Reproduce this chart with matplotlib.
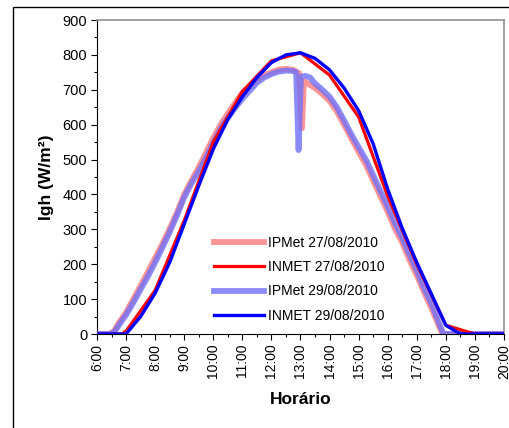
import matplotlib
matplotlib.use("Agg")
import matplotlib.pyplot as plt
from matplotlib.patches import Rectangle
from matplotlib.ticker import MultipleLocator

plt.rcParams['font.family'] = ['Liberation Sans', 'DejaVu Sans']

def hm(s):
    h, m = s.split(':')
    return int(h) + int(m) / 60.0

# IPMet 27/08/2010
ipmet27_t = ["6:00", "6:25", "6:35", "6:45", "7:00", "7:15", "7:30", "7:45", "8:00", "8:15", "8:30", "8:45",
             "9:00", "9:15", "9:30", "9:45", "10:00", "10:15", "10:30", "10:45", "11:00", "11:15", "11:30",
             "11:45", "12:00", "12:15", "12:30", "12:45", "12:57", "13:03", "13:07", "13:15", "13:30", "13:45",
             "14:00", "14:15", "14:30", "14:45", "15:00", "15:15", "15:30", "15:45", "16:00", "16:15", "16:30",
             "16:45", "17:00", "17:15", "17:30", "17:45", "17:53", "20:00"]
ipmet27_v = [0, 0, 8, 32, 62, 100, 138, 178, 218, 258, 302, 348,
             400, 440, 478, 520, 562, 600, 632, 662, 692, 708, 728,
             742, 750, 758, 760, 757, 748, 590, 725, 718, 705, 688,
             668, 638, 600, 560, 522, 485, 440, 395, 350, 302, 262,
             212, 168, 120, 75, 25, 0, 0]

# INMET 27/08/2010
inmet27_t = ["6:00", "6:50", "7:00", "8:00", "9:00", "10:00", "11:00", "12:00", "13:00", "14:00",
             "15:00", "16:00", "17:00", "18:00", "19:00", "20:00"]
inmet27_v = [0, 0, 8, 125, 325, 550, 695, 783, 806, 742, 622, 395, 200, 25, 0, 0]

# IPMet 29/08/2010
ipmet29_t = ["6:00", "6:25", "6:35", "6:45", "7:00", "7:15", "7:30", "7:45", "8:00", "8:15", "8:30", "8:45",
             "9:00", "9:15", "9:30", "9:45", "10:00", "10:15", "10:30", "10:45", "11:00", "11:15", "11:30",
             "11:45", "12:00", "12:15", "12:30", "12:45", "12:51", "12:56", "13:01", "13:10", "13:20", "13:30",
             "13:45", "14:00", "14:15", "14:30", "14:45", "15:00", "15:15", "15:30", "15:45", "16:00", "16:15",
             "16:30", "16:45", "17:00", "17:15", "17:30", "17:45", "17:55", "20:00"]
ipmet29_v = [0, 0, 4, 25, 55, 90, 128, 165, 205, 248, 292, 340,
             392, 432, 466, 505, 548, 588, 620, 648, 674, 697, 720,
             735, 745, 752, 755, 754, 750, 527, 738, 740, 735, 718,
             700, 680, 650, 612, 572, 535, 500, 455, 410, 365, 318,
             275, 228, 182, 132, 88, 35, 0, 0]

# INMET 29/08/2010
inmet29_t = ["6:00", "7:00", "7:30", "8:00", "8:30", "9:00", "9:30", "10:00", "10:30", "11:00", "11:30",
             "12:00", "12:30", "13:00", "13:30", "14:00", "14:30", "15:00", "15:30", "16:00", "16:30",
             "17:00", "17:30", "18:00", "18:30", "20:00"]
inmet29_v = [0, 0, 50, 117, 205, 315, 425, 530, 615, 680, 735,
             778, 800, 806, 790, 757, 705, 640, 545, 415, 303,
             205, 115, 25, 0, 0]

xtick_labels = ["6:00", "7:00", "8:00", "9:00", "10:00", "11:00", "12:00", "13:00", "14:00",
                "15:00", "16:00", "17:00", "18:00", "19:00", "20:00"]
yticks = [0, 100, 200, 300, 400, 500, 600, 700, 800, 900]

fig = plt.figure(figsize=(5.10, 4.28), dpi=100)
# outer frame
fig.patches.append(Rectangle((13 / 510, -0.05), 1.2, 1 - 7 / 428 + 0.05, transform=fig.transFigure,
                             fill=False, edgecolor='black', linewidth=1.0, zorder=0))
ax = fig.add_axes([97 / 510, 1 - 334 / 428, (504 - 97) / 510, (334 - 20) / 428])

ax.plot([hm(t) for t in ipmet27_t], ipmet27_v, color='#ff7070', alpha=0.75, lw=4.2, solid_joinstyle='round',
        label='IPMet 27/08/2010', zorder=2)
ax.plot([hm(t) for t in inmet27_t], inmet27_v, color='#ff0000', lw=2.3,
        label='INMET 27/08/2010', zorder=4)
ax.plot([hm(t) for t in ipmet29_t], ipmet29_v, color='#7070f8', alpha=0.8, lw=4.2, solid_joinstyle='round',
        label='IPMet 29/08/2010', zorder=3)
ax.plot([hm(t) for t in inmet29_t], inmet29_v, color='#0000ff', lw=2.4,
        label='INMET 29/08/2010', zorder=5)

ax.set_xlim(6, 20)
ax.set_ylim(0, 900)
ax.set_xticks(range(6, 21))
ax.set_xticklabels(xtick_labels, rotation=90, fontsize=10)
ax.xaxis.set_minor_locator(MultipleLocator(0.5))
ax.set_yticks(yticks)
ax.set_yticklabels([str(v) for v in yticks], fontsize=10.5)
ax.yaxis.set_minor_locator(MultipleLocator(50))
ax.tick_params(axis='both', which='major', direction='out', length=4, width=0.8, color='black', pad=3)
ax.tick_params(axis='both', which='minor', direction='out', length=2.5, width=0.8, color='black')

for s in ['top', 'right']:
    ax.spines[s].set_color('#909090')
    ax.spines[s].set_linewidth(1.2)
for s in ['left', 'bottom']:
    ax.spines[s].set_color('black')
    ax.spines[s].set_linewidth(0.8)

ax.set_ylabel('Igh (W/m²)', fontsize=12.5, fontweight='bold', labelpad=6)
ax.set_xlabel('Horário', fontsize=12.5, fontweight='bold', labelpad=10)

leg = ax.legend(loc='upper left', bbox_to_anchor=((208 - 97) / 407, (334 - 230) / 314), frameon=False,
                fontsize=10, handlelength=3.6, handletextpad=0.3, labelspacing=0.75, borderaxespad=0)

fig.savefig('out.png', dpi=100)
